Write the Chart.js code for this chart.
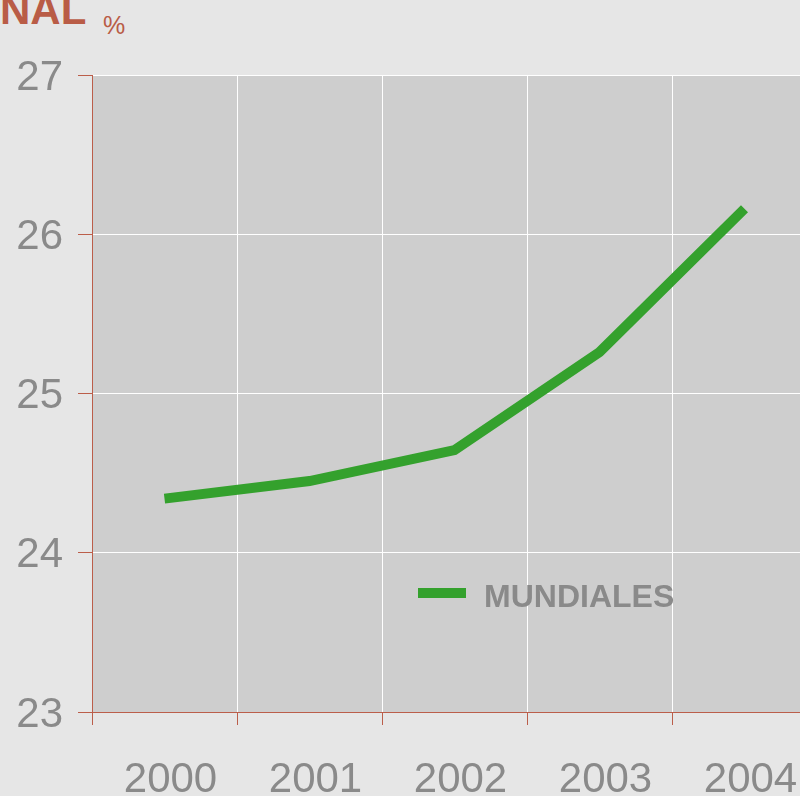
<!DOCTYPE html>
<html>
<head>
<meta charset="utf-8">
<script src="https://cdn.jsdelivr.net/npm/chart.js@4/dist/chart.umd.min.js"></script>
<style>
  html, body { margin: 0; padding: 0; background: #e6e6e6; overflow: hidden; width: 800px; height: 796px; }
  #wrap { position: absolute; left: 0; top: 0; width: 830px; height: 810px; }
  .title { position: absolute; font-family: "Liberation Sans", Arial, sans-serif; color: #b95c46; white-space: nowrap; }
  #t1 { left: 0; top: -11px; font-size: 42px; line-height: 42px; font-weight: bold; }
  #t2 { left: 103px; top: 13px; font-size: 25px; line-height: 25px; }
</style>
</head>
<body>
<div class="title" id="t1">NAL</div>
<div class="title" id="t2">%</div>
<div id="wrap"><canvas id="chart" width="830" height="810"></canvas></div>
<script>
const years = ['2000', '2001', '2002', '2003', '2004'];
const mundiales = [24.34, 24.45, 24.645, 25.26, 26.16];
const yTicks = [23, 24, 25, 26, 27];
const seriesName = 'MUNDIALES';

const axisRed = '#bb5e4a';
const labelGrey = '#8a8a8a';

// plot area fill + legend drawn inside the chart area
const plotBg = {
  id: 'plotBg',
  beforeDraw(c) {
    const a = c.chartArea, ctx = c.ctx;
    ctx.save();
    ctx.fillStyle = '#cecece';
    ctx.fillRect(a.left, a.top, a.right - a.left, a.bottom - a.top);
    ctx.restore();
  },
  afterDatasetsDraw(c) {
    const a = c.chartArea, ctx = c.ctx;
    const ds = c.data.datasets[0];
    ctx.save();
    ctx.strokeStyle = ds.borderColor;
    ctx.lineWidth = 10;
    ctx.beginPath();
    ctx.moveTo(a.left + 326, 593);
    ctx.lineTo(a.left + 374, 593);
    ctx.stroke();
    ctx.fillStyle = labelGrey;
    ctx.font = 'bold 32px "Liberation Sans", Arial, sans-serif';
    ctx.textBaseline = 'alphabetic';
    ctx.fillText(ds.label, a.left + 392, 607);
    ctx.restore();
  }
};

chart = new Chart(document.getElementById('chart'), {
  type: 'line',
  data: {
    labels: years,
    datasets: [{
      label: seriesName,
      data: mundiales,
      borderColor: '#34a12d',
      borderWidth: 10,
      borderCapStyle: 'butt',
      pointRadius: 0,
      tension: 0
    }]
  },
  options: {
    responsive: false,
    animation: false,
    layout: { padding: { left: 0, right: 13, top: 75, bottom: 0 } },
    plugins: { legend: { display: false }, tooltip: { enabled: false } },
    scales: {
      x: {
        offset: true,
        afterFit: s => { s.height = 98; },
        grid: { offset: true, color: '#ffffff', lineWidth: 1, tickColor: axisRed, tickLength: 13 },
        border: { color: axisRed, width: 1 },
        ticks: {
          color: labelGrey,
          padding: 30,
          labelOffset: 6,
          maxRotation: 0,
          font: { family: '"Liberation Sans", Arial, sans-serif', size: 42 }
        }
      },
      y: {
        min: 23,
        max: 27,
        afterFit: s => { s.width = 92; },
        afterBuildTicks: s => { s.ticks = yTicks.map(v => ({ value: v })); },
        grid: { color: '#ffffff', lineWidth: 1, tickColor: axisRed, tickLength: 14 },
        border: { color: axisRed, width: 1 },
        ticks: {
          color: labelGrey,
          padding: 15,
          labelOffset: 3,
          font: { family: '"Liberation Sans", Arial, sans-serif', size: 42 }
        }
      }
    }
  },
  plugins: [plotBg]
});
</script>
</body>
</html>
